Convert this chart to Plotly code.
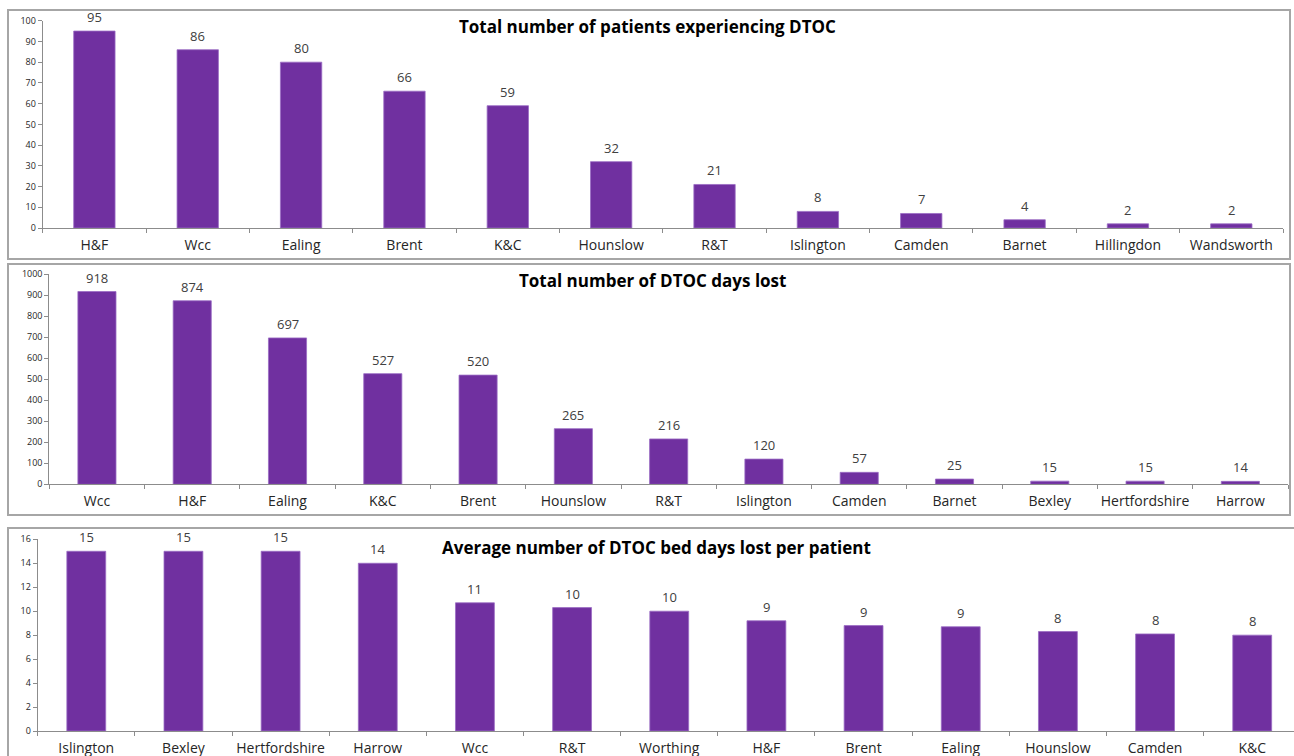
import plotly.graph_objects as go

W, H = 1294, 756

p1_cats = ["H&F", "Wcc", "Ealing", "Brent", "K&C", "Hounslow", "R&T", "Islington",
           "Camden", "Barnet", "Hillingdon", "Wandsworth"]
p1_vals = [95, 86, 80, 66, 59, 32, 21, 8, 7, 4, 2, 2]
p1_title = "Total number of patients experiencing DTOC"

p2_cats = ["Wcc", "H&F", "Ealing", "K&C", "Brent", "Hounslow", "R&T", "Islington",
           "Camden", "Barnet", "Bexley", "Hertfordshire", "Harrow"]
p2_vals = [918, 874, 697, 527, 520, 265, 216, 120, 57, 25, 15, 15, 14]
p2_title = "Total number of DTOC days lost"

p3_cats = ["Islington", "Bexley", "Hertfordshire", "Harrow", "Wcc", "R&T", "Worthing",
           "H&F", "Brent", "Ealing", "Hounslow", "Camden", "K&C"]
p3_vals = [15.0, 15.0, 15.0, 14.0, 10.7, 10.3, 10.0, 9.2, 8.8, 8.7, 8.3, 8.1, 8.0]
p3_title = "Average number of DTOC bed days lost per patient"

BAR = "#7030A0"
FONT = "Open Sans"

def px(x):
    return x / W

def py(y):
    return (H - y) / H

panels = [
    # cats, vals, title, xdom(px), ydom(px top,bottom), yrange, dtick, xrange, box, title pos
    (p1_cats, p1_vals, p1_title, (42.7, 1283), (20.7, 228), [0, 100], 10, None,
     (8, 10, 1290, 259), (647, 27)),
    (p2_cats, p2_vals, p2_title, (49.3, 1288), (274.3, 484.3), [0, 1000], 100, None,
     (8, 264, 1290, 515), (652, 280)),
    (p3_cats, p3_vals, p3_title, (37.7, 1294), (539.3, 731), [0, 16], 2, [-0.5, 12.43],
     (8, 528, 1300, 790), (657, 547)),
]

fig = go.Figure()
shapes = []
annotations = []
for i, (cats, vals, title, xd, yd, yr, dt, xr, box, tpos) in enumerate(panels):
    n = "" if i == 0 else str(i + 1)
    fig.add_trace(go.Bar(
        x=cats, y=vals, xaxis="x" + n, yaxis="y" + n,
        marker=dict(color=BAR, line=dict(color="#9a6cc4", width=0.8)),
        showlegend=False, width=0.4,
    ))
    for c, v in zip(cats, vals):
        annotations.append(dict(text=f"{v:.0f}", x=c, y=v, xref="x" + n, yref="y" + n,
                                xanchor="center", yanchor="bottom", yshift=3,
                                showarrow=False,
                                font=dict(family=FONT, size=13, color="#404040")))
    xa = dict(domain=[px(xd[0]), px(xd[1])], anchor="y" + n, type="category",
              showline=True, linecolor="#8c8c8c", linewidth=1,
              ticks="outside", tickson="boundaries", ticklen=4, tickcolor="#8c8c8c",
              showgrid=False, zeroline=False, tickangle=0, automargin=False,
              ticklabelstandoff=4,
              tickfont=dict(family=FONT, size=14, color="#262626"))
    if xr is not None:
        xa["range"] = xr
    ya = dict(domain=[py(yd[1]), py(yd[0])], anchor="x" + n, range=yr, dtick=dt,
              showline=True, linecolor="#8c8c8c", linewidth=1,
              ticks="outside", ticklen=4, tickcolor="#8c8c8c",
              showgrid=False, zeroline=False, automargin=False,
              tickfont=dict(family=FONT, size=9, color="#262626"))
    fig.update_layout(**{"xaxis" + n: xa, "yaxis" + n: ya})
    shapes.append(dict(type="rect", xref="paper", yref="paper",
                       x0=px(box[0]), x1=px(box[2]), y0=py(box[3]), y1=py(box[1]),
                       line=dict(color="#a6a6a6", width=2), fillcolor="rgba(0,0,0,0)"))
    annotations.append(dict(text="<b>" + title + "</b>", xref="paper", yref="paper",
                            x=px(tpos[0]), y=py(tpos[1]), xanchor="center", yanchor="middle",
                            showarrow=False,
                            font=dict(family=FONT, size=17, color="#000000")))

fig.update_layout(
    width=W, height=H, margin=dict(l=0, r=0, t=0, b=0),
    paper_bgcolor="white", plot_bgcolor="white",
    bargap=0.6, shapes=shapes, annotations=annotations,
)

fig.write_html("out.html")
